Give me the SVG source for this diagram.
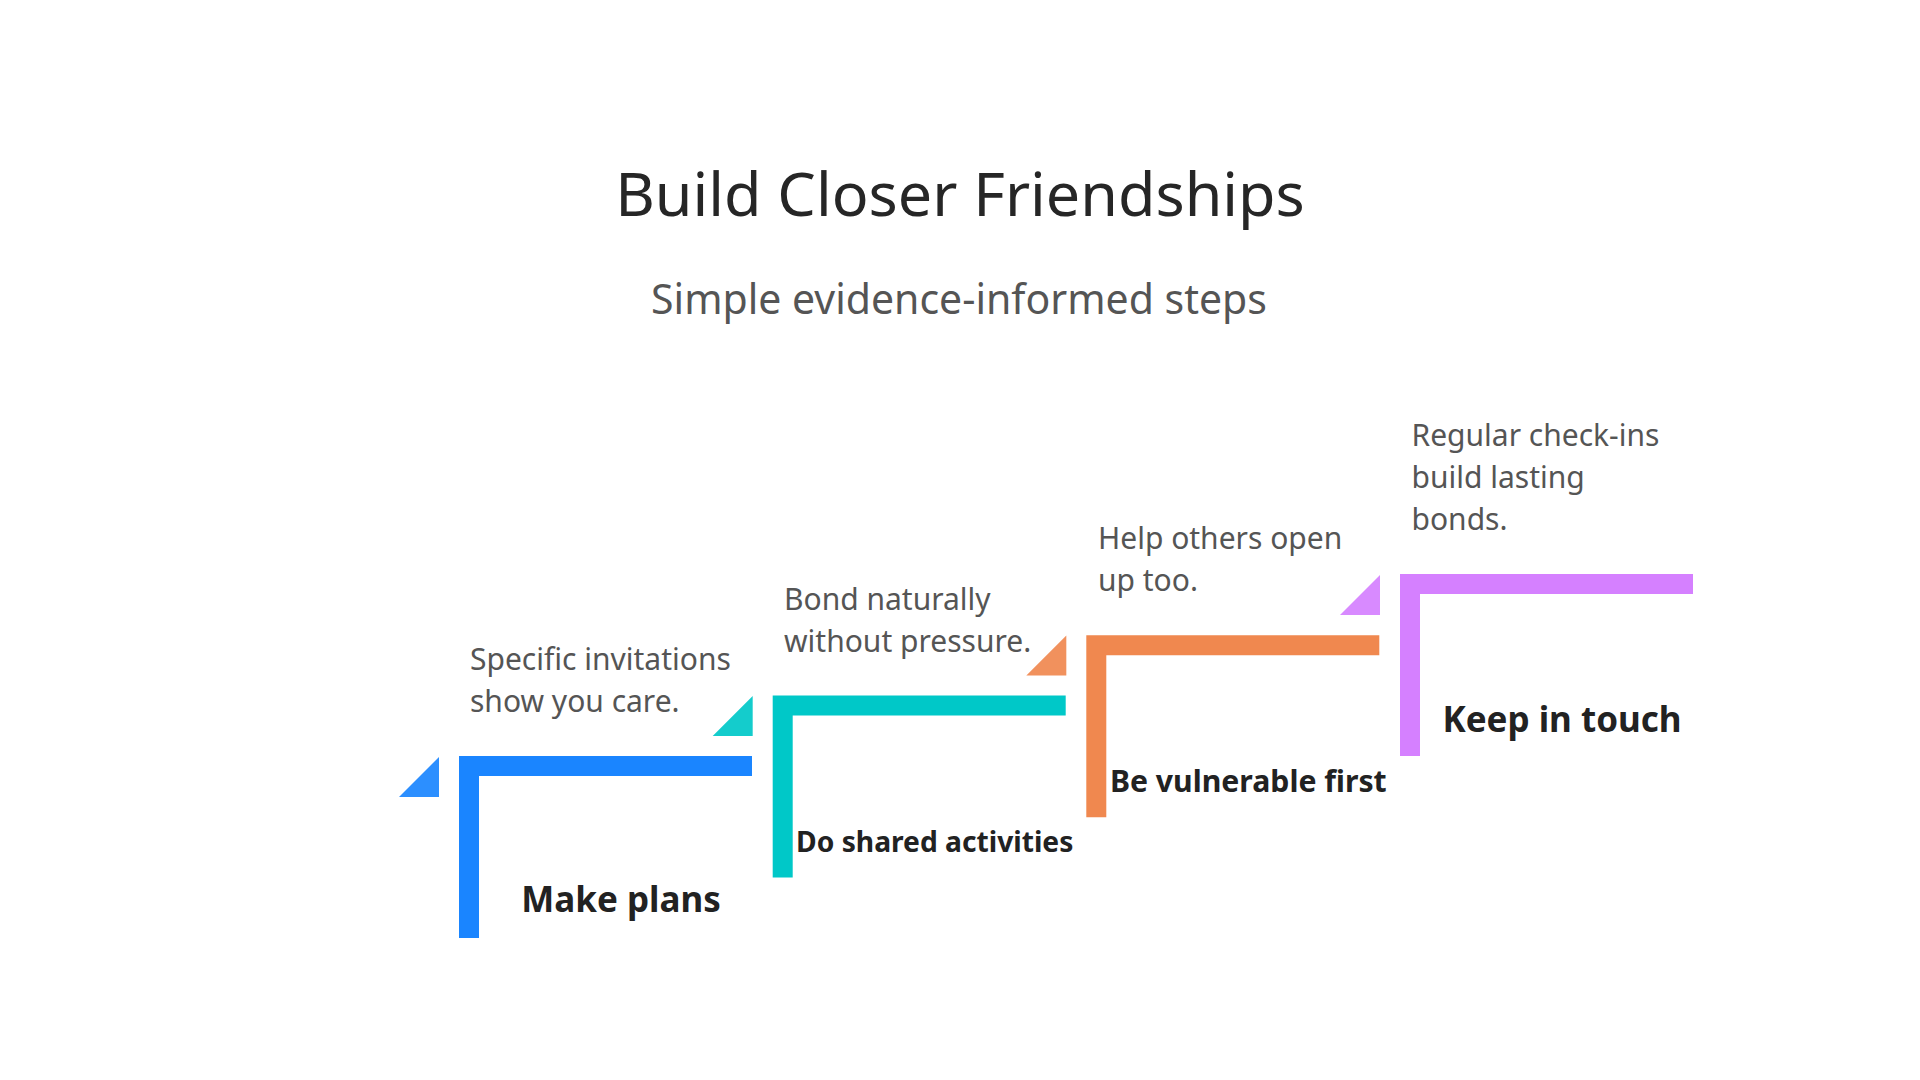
<svg xmlns="http://www.w3.org/2000/svg" width="1920" height="1080" viewBox="0 0 1920 1080">
<style>
.title{font-family:"Noto Sans","Liberation Sans",sans-serif;font-size:61px;fill:#262626;text-anchor:middle}
.sub{font-family:"Noto Sans","Liberation Sans",sans-serif;font-size:41px;fill:#555555;text-anchor:middle}
.desc{font-family:"Noto Sans","Liberation Sans",sans-serif;font-size:30px;fill:#555555}
.lbl{font-family:"Noto Sans","Liberation Sans",sans-serif;font-weight:700;fill:#222222;text-anchor:middle}
.tri{fill-opacity:0.92}
</style>
<rect width="1920" height="1080" fill="#ffffff"/>
<text class="title" x="960" y="216">Build Closer Friendships</text>
<text class="sub" x="959" y="314">Simple evidence-informed steps</text>
<g id="connectors"></g>
<g id="step1">
<polygon class="tri" points="399,797 439,797 439,757" fill="#1A85FF"/>
<path d="M459,756 h293 v20 h-273 v162 h-20 z" fill="#1A85FF"/>
<text class="desc" x="470" y="670">Specific invitations</text>
<text class="desc" x="470" y="712">show you care.</text>
<text class="lbl" x="621" y="912" font-size="35">Make plans</text>
</g>
<g id="step2">
<polygon class="tri" points="712.7,736 752.7,736 752.7,696" fill="#00C8C8"/>
<path d="M772.7,695.6 h293 v20 h-273 v162 h-20 z" fill="#00C8C8"/>
<text class="desc" x="784" y="610">Bond naturally</text>
<text class="desc" x="784" y="652">without pressure.</text>
<text class="lbl" x="934.7" y="852" font-size="28.2">Do shared activities</text>
</g>
<g id="step3">
<polygon class="tri" points="1026.3,675.5 1066.3,675.5 1066.3,635.5" fill="#F0884F"/>
<path d="M1086.3,635.3 h293 v20 h-273 v162 h-20 z" fill="#F0884F"/>
<text class="desc" x="1098" y="549">Help others open</text>
<text class="desc" x="1098" y="591">up too.</text>
<text class="lbl" x="1248.3" y="791.5" font-size="30.2">Be vulnerable first</text>
</g>
<g id="step4">
<polygon class="tri" points="1340,615 1380,615 1380,575" fill="#D580FF"/>
<path d="M1400,574 h293 v20 h-273 v162 h-20 z" fill="#D580FF"/>
<text class="desc" x="1411.5" y="446">Regular check-ins</text>
<text class="desc" x="1411.5" y="488">build lasting</text>
<text class="desc" x="1411.5" y="530">bonds.</text>
<text class="lbl" x="1562" y="731.5" font-size="35">Keep in touch</text>
</g>
</svg>
